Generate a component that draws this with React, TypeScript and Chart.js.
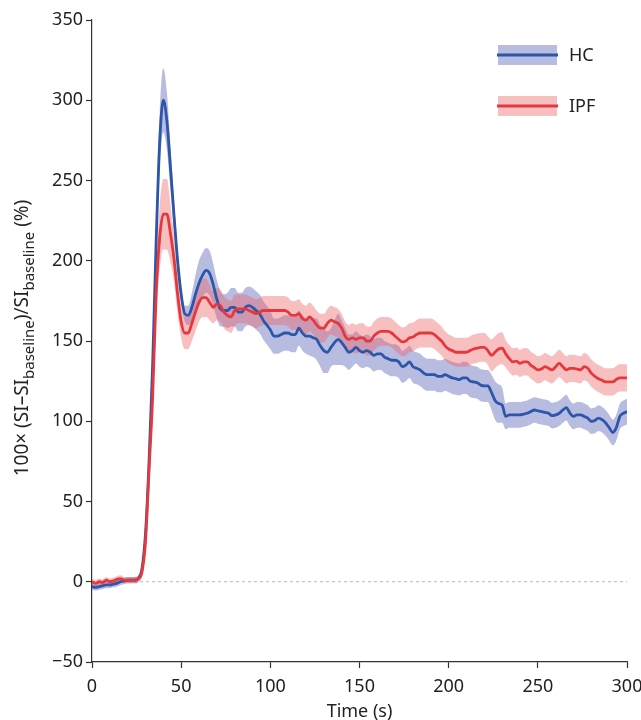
import React, { useEffect, useRef } from "react";
import { Chart, registerables } from "chart.js";
Chart.register(...registerables);

const FONT = '"Noto Sans", "DejaVu Sans", sans-serif';

const times = [
  0, 2, 4, 6, 8, 10, 12, 14, 16, 18, 20, 22, 24, 26, 28, 30, 32, 34, 36, 38,
  40, 42, 44, 46, 48, 50, 52, 54, 56, 58, 60, 62, 64, 66, 68, 70, 72, 74, 76, 78,
  80, 82, 84, 86, 88, 90, 92, 94, 96, 98, 100, 102, 104, 106, 108, 110, 112, 114, 116, 118,
  120, 122, 124, 126, 128, 130, 132, 134, 136, 138, 140, 142, 144, 146, 148, 150, 152, 154, 156, 158,
  160, 162, 164, 166, 168, 170, 172, 174, 176, 178, 180, 182, 184, 186, 188, 190, 192, 194, 196, 198,
  200, 202, 204, 206, 208, 210, 212, 214, 216, 218, 220, 222, 224, 226, 228, 230, 232, 234, 236, 238,
  240, 242, 244, 246, 248, 250, 252, 254, 256, 258, 260, 262, 264, 266, 268, 270, 272, 274, 276, 278,
  280, 282, 284, 286, 288, 290, 292, 294, 296, 298, 300,
];

const hcMean = [
  -3, -3.5, -3, -2.5, -2, -2, -1.5, -1, 0, 0.5, 1, 1, 1, 2, 8, 30, 75, 135, 213, 275,
  300, 287, 258, 228, 200, 179, 167, 166, 171, 179, 186, 191, 194, 192, 185, 176, 170, 169, 169, 171,
  171, 168, 168, 171, 172, 171, 169, 167, 163, 160, 157, 153, 153, 154, 155, 155, 154, 154, 158, 155,
  153, 153, 152, 151, 147, 144, 143, 146, 149, 151, 149, 146, 143, 144, 146, 144, 143, 144, 143, 141,
  142, 142, 140, 139, 138, 138, 137, 134, 135, 137, 134, 133, 132, 130, 129, 129, 129, 128, 128, 129,
  128, 127, 126.5, 126, 127, 127, 125, 124.5, 124, 122.5, 122, 122, 118, 113, 111, 110, 103, 104, 104, 104,
  104, 104.5, 105, 106, 107, 106.5, 106, 105.5, 105, 103.5, 104, 105, 107, 108.5, 105, 103, 104, 104, 103, 102,
  100, 100.5, 102, 101, 99, 96, 93, 96, 103, 105, 106,
];

const hcErr = [
  2, 2, 2, 2, 2, 2, 2, 2, 2, 2, 2, 2, 2, 2, 3, 5, 8, 10, 14, 18,
  20, 18, 14, 10, 7, 5, 5, 6, 9, 12, 14, 14, 14, 14, 13, 12, 11, 10, 11, 12,
  12, 12, 12, 12, 12, 12, 12, 12, 12, 12, 12, 11, 11, 11, 11, 11, 11, 11, 11, 11,
  11, 12, 12, 13, 13, 14, 13, 12, 14, 16, 14, 12, 11, 10, 10, 10, 10, 10, 10, 10,
  10, 10, 10, 10, 10, 10, 10, 10, 10, 10, 10, 10, 10, 10, 10, 10, 10, 10, 10, 10,
  10, 10, 10, 10, 10, 10, 10, 10, 10, 10, 10, 10, 11, 12, 12, 11, 8, 8, 8, 8,
  8, 8, 8, 8, 8, 8, 8, 8, 8, 8, 8, 8, 8, 8, 8, 8, 8, 8, 8, 8,
  8, 8, 8, 8, 8, 8, 8, 8, 8, 8, 8,
];

const ipfMean = [
  0, -1, 0, -0.5, 1, 0, 0.5, 1.5, 2, 1, 1, 1, 1, 2, 6, 25, 70, 115, 180, 215,
  229, 229, 217, 201, 179, 162, 155, 155, 161, 168, 174, 177, 177, 174, 171, 173, 172, 168, 166, 165,
  169, 170, 170, 170, 169, 168, 167, 168, 169, 169, 169, 169, 169, 169, 169, 168, 166, 166, 167, 164,
  163, 165, 163, 160, 158, 158, 161, 163, 162, 161, 158, 153, 151, 152, 151, 152, 152, 150, 150, 153,
  155, 156, 156, 156, 155, 153, 151, 149.5, 150, 152, 152.5, 154, 155, 155, 155, 155, 154, 152, 150, 147,
  145, 144, 143, 143, 143, 143, 144, 145, 145.5, 146, 146, 144, 141, 143, 145, 145.5, 142, 139, 137, 137.5,
  136, 137, 137, 135, 133.5, 132, 132.5, 134, 133, 132, 134, 136, 134, 132, 133, 133, 132.5, 132, 134, 133,
  130, 128, 126.5, 125.5, 124.5, 124.5, 124.5, 126, 127, 127, 127,
];

const ipfErr = [
  2, 2, 2, 2, 2, 2, 2, 2, 2, 2, 2, 2, 2, 2, 3, 5, 8, 12, 16, 20,
  22, 22, 18, 14, 12, 10, 10, 10, 11, 12, 12, 12, 12, 11, 10, 10, 10, 10, 10, 10,
  10, 9, 9, 9, 9, 9, 9, 9, 9, 9, 9, 9, 9, 9, 9, 9, 9, 9, 9, 9,
  9, 9, 9, 9, 9, 9, 9, 9, 9, 9, 9, 9, 9, 9, 9, 9, 9, 9, 9, 9,
  9, 9, 9, 9, 9, 9, 9, 9, 9, 9, 9, 9, 9, 9, 9, 9, 9, 9, 9, 9,
  9, 9, 9, 9, 9, 9, 9, 9, 9, 9, 9, 9, 10, 10, 10, 10, 8.5, 8.5, 8.5, 8.5,
  8.5, 8.5, 8.5, 8.5, 8.5, 8.5, 8.5, 8.5, 8.5, 8.5, 8.5, 8.5, 8.5, 8.5, 8.5, 8.5, 8.5, 8.5, 8.5, 8.5,
  8.5, 8.5, 8.5, 8.5, 8.5, 8.5, 8.5, 8.5, 8.5, 8.5, 8.5,
];

const seriesNames = ["HC", "IPF"];
const yTitleRuns: [string, boolean][] = [
  ["100× (SI–SI", false],
  ["baseline", true],
  [")/SI", false],
  ["baseline", true],
  [" (%)", false],
];
const xTitle = "Time (s)";

const HC_LINE = "#2c56a8";
const HC_BAND = "rgba(70,80,175,0.38)";
const IPF_LINE = "#e5383c";
const IPF_BAND = "rgba(238,95,100,0.40)";

export default function App() {
  const ref = useRef<HTMLCanvasElement>(null);
  useEffect(() => {
    document.body.style.margin = "0";
    document.body.style.overflow = "hidden";
    const canvas = ref.current!;
    const pts = (vals: number[]) => times.map((t, i) => ({ x: t, y: vals[i] }));
    const plus = (m: number[], e: number[]) => m.map((v, i) => v + e[i]);
    const minus = (m: number[], e: number[]) => m.map((v, i) => v - e[i]);

    const overlay = {
      id: "overlay",
      afterDraw(chart: any) {
        const ctx = chart.ctx;
        const area = chart.chartArea;
        // y title with subscripts
        ctx.save();
        ctx.fillStyle = "#222";
        ctx.textBaseline = "alphabetic";
        const mainFont = `19px ${FONT}`;
        const subFont = `15px ${FONT}`;
        let total = 0;
        yTitleRuns.forEach(([s, sub]) => {
          ctx.font = sub ? subFont : mainFont;
          total += ctx.measureText(s).width;
        });
        ctx.translate(28, 338);
        ctx.rotate(-Math.PI / 2);
        let x = -total / 2;
        yTitleRuns.forEach(([s, sub]) => {
          ctx.font = sub ? subFont : mainFont;
          ctx.fillText(s, x, sub ? 6 : 0);
          x += ctx.measureText(s).width;
        });
        ctx.restore();

        // legend
        ctx.save();
        const lx = area.left + 406;
        const items = [
          { name: seriesNames[0], line: HC_LINE, band: HC_BAND, y: area.top + 35 },
          { name: seriesNames[1], line: IPF_LINE, band: IPF_BAND, y: area.top + 86 },
        ];
        items.forEach((it) => {
          ctx.fillStyle = it.band;
          ctx.fillRect(lx, it.y - 10, 59, 20);
          ctx.strokeStyle = it.line;
          ctx.lineWidth = 3;
          ctx.beginPath();
          ctx.moveTo(lx - 1, it.y);
          ctx.lineTo(lx + 60, it.y);
          ctx.stroke();
          ctx.fillStyle = "#222";
          ctx.font = `18px ${FONT}`;
          ctx.textBaseline = "middle";
          ctx.fillText(it.name, lx + 71, it.y + 1);
        });
        ctx.restore();
      },
    };

    const chart = new Chart(canvas, {
      type: "line",
      data: {
        datasets: [
          {
            label: "IPF mean",
            data: pts(ipfMean),
            borderColor: IPF_LINE,
            borderWidth: 2.8,
            pointRadius: 0,
            fill: false,
            cubicInterpolationMode: "monotone",
            order: 0,
          },
          {
            label: "HC mean",
            data: pts(hcMean),
            borderColor: HC_LINE,
            borderWidth: 2.8,
            pointRadius: 0,
            fill: false,
            cubicInterpolationMode: "monotone",
            order: 1,
          },
          {
            label: "IPF upper",
            data: pts(plus(ipfMean, ipfErr)),
            borderWidth: 0,
            borderColor: "rgba(0,0,0,0)",
            backgroundColor: IPF_BAND,
            pointRadius: 0,
            fill: "+1",
            cubicInterpolationMode: "monotone",
            order: 2,
          },
          {
            label: "IPF lower",
            data: pts(minus(ipfMean, ipfErr)),
            borderWidth: 0,
            borderColor: "rgba(0,0,0,0)",
            pointRadius: 0,
            fill: false,
            cubicInterpolationMode: "monotone",
            order: 2,
          },
          {
            label: "HC upper",
            data: pts(plus(hcMean, hcErr)),
            borderWidth: 0,
            borderColor: "rgba(0,0,0,0)",
            backgroundColor: HC_BAND,
            pointRadius: 0,
            fill: "+1",
            cubicInterpolationMode: "monotone",
            order: 3,
          },
          {
            label: "HC lower",
            data: pts(minus(hcMean, hcErr)),
            borderWidth: 0,
            borderColor: "rgba(0,0,0,0)",
            pointRadius: 0,
            fill: false,
            cubicInterpolationMode: "monotone",
            order: 3,
          },
          {
            label: "zero",
            data: [
              { x: times[0], y: 0 },
              { x: times[times.length - 1], y: 0 },
            ],
            borderColor: "rgba(150,150,150,0.7)",
            borderWidth: 1,
            borderDash: [3, 3],
            pointRadius: 0,
            fill: false,
            order: 4,
          },
        ],
      },
      options: {
        animation: false,
        responsive: false,
        devicePixelRatio: 1,
        layout: { padding: { top: 20, right: 33, left: 0, bottom: 0 } },
        plugins: { legend: { display: false }, tooltip: { enabled: false } },
        scales: {
          x: {
            type: "linear",
            min: 0,
            max: 300,
            afterFit: (s: any) => {
              s.height = 61;
            },
            ticks: {
              stepSize: 50,
              color: "#222",
              padding: 8,
              font: { size: 18, family: FONT },
            },
            grid: {
              drawOnChartArea: false,
              drawTicks: true,
              tickLength: 6,
              tickColor: "#333",
              tickWidth: 1.2,
            },
            border: { display: true, color: "#333", width: 1.2 },
            title: {
              display: true,
              text: xTitle,
              color: "#222",
              font: { size: 18, family: FONT },
              padding: { top: 0, bottom: 0 },
            },
          },
          y: {
            type: "linear",
            min: -50,
            max: 350,
            afterFit: (s: any) => {
              s.width = 92;
            },
            ticks: {
              stepSize: 50,
              color: "#222",
              padding: 3,
              font: { size: 18, family: FONT },
              callback: (v: any) => (Number(v) < 0 ? "\u2212" + Math.abs(Number(v)) : String(v)),
            },
            grid: {
              drawOnChartArea: false,
              drawTicks: true,
              tickLength: 6,
              tickColor: "#333",
              tickWidth: 1.2,
            },
            border: { display: true, color: "#333", width: 1.2 },
          },
        },
      },
      plugins: [overlay],
    });
    return () => chart.destroy();
  }, []);
  return (
    <div style={{ width: 660, height: 723 }}>
      <canvas ref={ref} width={660} height={723} style={{ display: "block" }} />
    </div>
  );
}
